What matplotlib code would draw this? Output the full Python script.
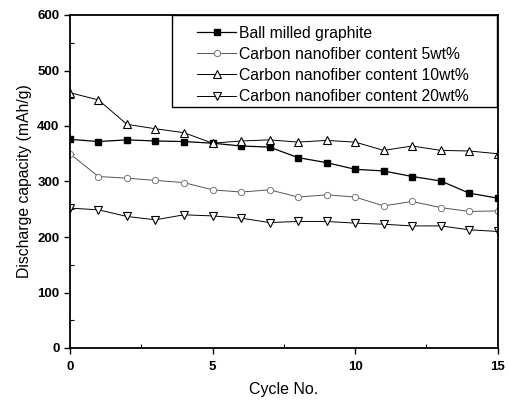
import matplotlib
matplotlib.use("Agg")
import matplotlib.pyplot as plt
from matplotlib.patches import Rectangle
from matplotlib.ticker import MultipleLocator

# Discharge capacity (mAh/g) per cycle
cycles = list(range(16))
ball_milled = [376, 372, 375, 373, 372, 369, 364, 362, 343, 334, 322, 319, 309, 301, 279, 270]
cnf_5 = [350, 309, 306, 302, 298, 285, 281, 285, 272, 276, 272, 256, 264, 253, 246, 247]
cnf_10 = [460, 447, 403, 395, 388, 369, 373, 375, 371, 374, 371, 356, 364, 356, 355, 350]
cnf_20 = [252, 249, 237, 231, 240, 238, 234, 226, 228, 228, 225, 223, 220, 220, 213, 210]

labels = [
    "Ball milled graphite",
    "Carbon nanofiber content 5wt%",
    "Carbon nanofiber content 10wt%",
    "Carbon nanofiber content 20wt%",
]

plt.rcParams["font.family"] = ["Liberation Sans", "DejaVu Sans"]

fig = plt.figure(figsize=(5.1, 4.0), dpi=100)
ax = fig.add_axes([0.137, 0.13, 0.839, 0.8325])

ax.plot(cycles, ball_milled, color="black", lw=0.9, marker="s", ms=4.2,
        mfc="black", mec="black", label=labels[0])
ax.plot(cycles, cnf_5, color="#555555", lw=0.7, marker="o", ms=4.5,
        mfc="white", mec="#777777", mew=0.7, label=labels[1])
ax.plot(cycles, cnf_10, color="black", lw=0.7, marker="^", ms=5.2,
        mfc="white", mec="black", mew=0.8, label=labels[2])
ax.plot(cycles, cnf_20, color="black", lw=0.7, marker="v", ms=5.2,
        mfc="white", mec="black", mew=0.8, label=labels[3])

ax.set_xlim(0, 15)
ax.set_ylim(0, 600)
ax.xaxis.set_major_locator(MultipleLocator(5))
ax.xaxis.set_minor_locator(MultipleLocator(2.5))
ax.yaxis.set_major_locator(MultipleLocator(100))
ax.yaxis.set_minor_locator(MultipleLocator(50))
ax.tick_params(which="major", direction="out", length=4, width=1.0, labelsize=9.5)
ax.tick_params(axis="x", which="major", pad=5)
ax.tick_params(which="minor", direction="in", length=3, width=0.8)
for lab in ax.get_xticklabels() + ax.get_yticklabels():
    lab.set_fontweight("bold")
for sp in ax.spines.values():
    sp.set_linewidth(1.3)

ax.set_xlabel("Cycle No.", fontsize=11.5, labelpad=7)
ax.set_ylabel("Discharge capacity (mAh/g)", fontsize=11.3, labelpad=4)

# legend box is wider than its contents in the original, so draw the frame by hand
ax.add_patch(Rectangle((0.238, 0.724), 0.76, 0.276, transform=ax.transAxes,
                       facecolor="white", edgecolor="black", lw=1.0, zorder=4))
leg = ax.legend(loc="upper left", bbox_to_anchor=(0.272, 1.0), fontsize=11.3,
                frameon=False, borderaxespad=0.0, borderpad=0.68,
                handlelength=2.5, labelspacing=0.39, handletextpad=0.2)
leg.set_zorder(5)

fig.savefig("out.png", dpi=100)
